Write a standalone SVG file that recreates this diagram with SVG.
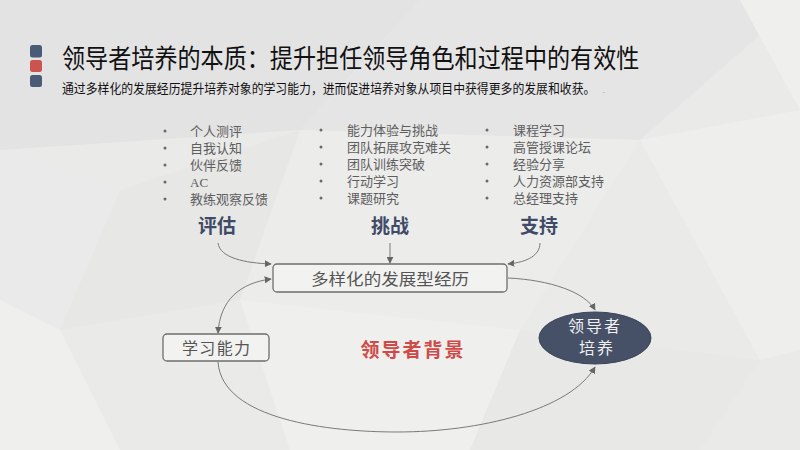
<svg xmlns="http://www.w3.org/2000/svg" width="800" height="450" viewBox="0 0 800 450">
<style>
.title{font-family:"Noto Sans CJK SC","Noto Sans",sans-serif;fill:#111;}
.item{font-family:"Liberation Serif","Noto Sans CJK SC",serif;font-size:13px;fill:#5e5e5e;}
.dot{fill:#6a6a6a;}
.head{font-family:"Noto Sans CJK SC",sans-serif;font-size:19px;font-weight:bold;fill:#3e4a66;text-anchor:middle;}
.box{fill:#f2f2f1;stroke:#6e6e6e;stroke-width:1.3;}
.boxt{font-family:"Noto Sans CJK SC",sans-serif;font-size:16px;fill:#555;text-anchor:middle;}
.conn{fill:none;stroke:#7a7a7a;stroke-width:1;}
</style>
<defs>
<marker id="ah" viewBox="0 0 10 10" refX="9" refY="5" markerWidth="7" markerHeight="7" orient="auto" markerUnits="userSpaceOnUse">
<path d="M0,0 L10,5 L0,10 z" fill="#666"/>
</marker>
<marker id="as" viewBox="0 0 10 10" refX="1" refY="5" markerWidth="7" markerHeight="7" orient="auto" markerUnits="userSpaceOnUse">
<path d="M10,0 L0,5 L10,10 z" fill="#666"/>
</marker>
</defs>
<g id="background">
<rect width="800" height="450" fill="#eaeae9"/>
<polygon points="0,0 420,0 300,130 0,150" fill="#e4e3e4"/>
<polygon points="420,0 800,0 640,140 300,130" fill="#e6e5e6"/>
<polygon points="740,0 800,0 800,110" fill="#efefee"/>
<polygon points="640,140 800,110 800,350 760,360" fill="#eeeeec"/>
<polygon points="0,150 120,190 60,330 0,300" fill="#eaeaea"/>
<polygon points="0,300 60,330 120,450 0,450" fill="#efefed"/>
<polygon points="300,130 640,140 520,330 240,300" fill="#ececeb"/>
<polygon points="240,300 520,330 470,450 290,450" fill="#efefee"/>
<polygon points="520,330 760,360 700,450 470,450" fill="#e8e8e7"/>
<polygon points="120,190 300,130 240,300 60,330" fill="#e7e7e6"/>
</g>
<g id="header">
<rect x="30" y="45" width="12" height="12.5" rx="2.5" fill="#4a5b78"/>
<rect x="30" y="60" width="12" height="12" rx="2.5" fill="#cc5450"/>
<rect x="30" y="75" width="12" height="12" rx="2.5" fill="#4a5b78"/>
<text class="title" transform="translate(62,68) scale(0.889,1)" font-size="26">领导者培养的本质：提升担任领导角色和过程中的有效性</text>
<text class="title" transform="translate(62,93) scale(0.912,1)" font-size="13">通过多样化的发展经历提升培养对象的学习能力，进而促进培养对象从项目中获得更多的发展和收获。<tspan dx="8" font-size="8" fill="#999">.</tspan></text>
</g>
<g id="list-assess">
<circle class="dot" cx="165" cy="131" r="1.5"/><text class="item" x="190" y="135.5">个人测评</text>
<circle class="dot" cx="165" cy="148" r="1.5"/><text class="item" x="190" y="152.5">自我认知</text>
<circle class="dot" cx="165" cy="165" r="1.5"/><text class="item" x="190" y="169.5">伙伴反馈</text>
<circle class="dot" cx="165" cy="182" r="1.5"/><text class="item" x="190" y="186.5">AC</text>
<circle class="dot" cx="165" cy="199" r="1.5"/><text class="item" x="190" y="203.5">教练观察反馈</text>
</g>
<g id="list-challenge">
<circle class="dot" cx="321" cy="130" r="1.5"/><text class="item" x="347" y="134.5">能力体验与挑战</text>
<circle class="dot" cx="321" cy="147" r="1.5"/><text class="item" x="347" y="151.5">团队拓展攻克难关</text>
<circle class="dot" cx="321" cy="164" r="1.5"/><text class="item" x="347" y="168.5">团队训练突破</text>
<circle class="dot" cx="321" cy="181" r="1.5"/><text class="item" x="347" y="185.5">行动学习</text>
<circle class="dot" cx="321" cy="198" r="1.5"/><text class="item" x="347" y="202.5">课题研究</text>
</g>
<g id="list-support">
<circle class="dot" cx="487" cy="130" r="1.5"/><text class="item" x="513" y="134.5">课程学习</text>
<circle class="dot" cx="487" cy="147" r="1.5"/><text class="item" x="513" y="151.5">高管授课论坛</text>
<circle class="dot" cx="487" cy="164" r="1.5"/><text class="item" x="513" y="168.5">经验分享</text>
<circle class="dot" cx="487" cy="181" r="1.5"/><text class="item" x="513" y="185.5">人力资源部支持</text>
<circle class="dot" cx="487" cy="198" r="1.5"/><text class="item" x="513" y="202.5">总经理支持</text>
</g>
<g id="head-assess"><text class="head" x="217" y="233">评估</text></g>
<g id="head-challenge"><text class="head" x="390" y="233">挑战</text></g>
<g id="head-support"><text class="head" x="539" y="233">支持</text></g>
<g id="connectors">
<path class="conn" d="M218,243 C220,258 245,263 271,264" marker-end="url(#ah)"/>
<path class="conn" d="M390,243 L390,263" marker-end="url(#ah)"/>
<path class="conn" d="M540,243 C540,255 528,262 508,264" marker-end="url(#ah)"/>
<path class="conn" d="M508,278 C550,280 585,292 595,310" marker-end="url(#ah)"/>
<path class="conn" d="M271,279 C240,283 220,300 218,333" marker-start="url(#as)" marker-end="url(#ah)"/>
<path class="conn" d="M218,362 C222,420 330,432 397,432 C480,432 570,410 595,367" marker-end="url(#ah)"/>
</g>
<g id="node-experience">
<rect class="box" x="273" y="264" width="234" height="28" rx="4"/>
<text class="boxt" x="390" y="284.5" textLength="158" lengthAdjust="spacingAndGlyphs">多样化的发展型经历</text>
</g>
<g id="node-learning">
<rect class="box" x="163" y="334" width="106" height="27" rx="4"/>
<text class="boxt" x="216" y="354" textLength="68" lengthAdjust="spacing">学习能力</text>
</g>
<g id="node-background">
<text x="412" y="357" font-family="Noto Sans CJK SC,sans-serif" font-size="19" font-weight="bold" fill="#d04a48" text-anchor="middle" textLength="103" lengthAdjust="spacing">领导者背景</text>
</g>
<g id="node-leader">
<ellipse cx="595" cy="338" rx="56" ry="26" fill="#465168" stroke="#3a4458" stroke-width="1"/>
<text x="594" y="332" font-family="Noto Sans CJK SC,sans-serif" font-size="16" fill="#f0f0f0" text-anchor="middle" textLength="52" lengthAdjust="spacing">领导者</text>
<text x="596" y="354" font-family="Noto Sans CJK SC,sans-serif" font-size="16" fill="#f0f0f0" text-anchor="middle" textLength="34" lengthAdjust="spacing">培养</text>
</g>
</svg>
